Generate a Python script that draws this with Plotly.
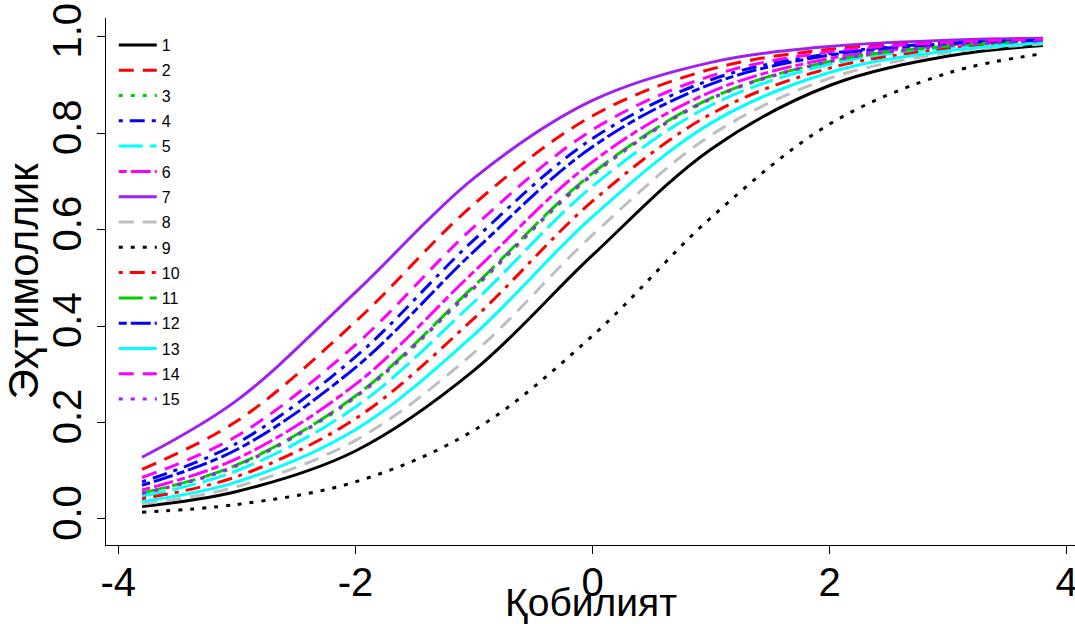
import plotly.graph_objects as go

# Ability grid (x) at which curves were read
ability = [-3.8, -3.0, -2.0, -1.0, 0.0, 1.0, 2.0, 3.0, 3.8]

item_names = ["1", "2", "3", "4", "5", "6", "7", "8", "9", "10", "11", "12", "13", "14", "15"]

p1 = [0.026, 0.057, 0.141, 0.308, 0.547, 0.767, 0.899, 0.960, 0.982]
p2 = [0.103, 0.203, 0.409, 0.653, 0.836, 0.933, 0.974, 0.990, 0.996]
p3 = [0.053, 0.110, 0.252, 0.478, 0.713, 0.871, 0.948, 0.980, 0.991]
p4 = [0.077, 0.157, 0.336, 0.579, 0.789, 0.911, 0.965, 0.987, 0.994]
p5 = [0.047, 0.100, 0.232, 0.450, 0.690, 0.858, 0.943, 0.978, 0.990]
p6 = [0.060, 0.125, 0.279, 0.513, 0.741, 0.886, 0.955, 0.983, 0.992]
p7 = [0.128, 0.246, 0.470, 0.707, 0.868, 0.947, 0.980, 0.993, 0.997]
p8 = [0.031, 0.067, 0.163, 0.345, 0.589, 0.796, 0.914, 0.967, 0.985]
p9 = [0.014, 0.030, 0.077, 0.184, 0.380, 0.625, 0.819, 0.925, 0.965]
p10 = [0.042, 0.088, 0.208, 0.416, 0.659, 0.840, 0.935, 0.975, 0.989]
p11 = [0.054, 0.112, 0.255, 0.483, 0.717, 0.873, 0.949, 0.981, 0.991]
p12 = [0.070, 0.144, 0.314, 0.555, 0.772, 0.902, 0.962, 0.986, 0.993]
p13 = [0.036, 0.077, 0.185, 0.382, 0.627, 0.821, 0.926, 0.971, 0.987]
p14 = [0.086, 0.172, 0.361, 0.606, 0.807, 0.919, 0.969, 0.988, 0.995]
p15 = [0.053, 0.111, 0.254, 0.480, 0.715, 0.872, 0.949, 0.981, 0.991]

series = [p1, p2, p3, p4, p5, p6, p7, p8, p9, p10, p11, p12, p13, p14, p15]

palette = ["#000000", "#FF0000", "#00CD00", "#0000FF", "#00FFFF", "#FF00FF", "#A020F0", "#BEBEBE"]
dashes = ["solid", "15px,9px", "4px,8px", "4px,7px,15px,7px", "24px,7px", "8px,4px,20px,4px"]

x_ticks = [-4, -2, 0, 2, 4]
x_ticktext = ["-4", "-2", "0", "2", "4"]
y_ticks = [0.0, 0.2, 0.4, 0.6, 0.8, 1.0]
y_ticktext = ["0.0", "0.2", "0.4", "0.6", "0.8", "1.0"]
x_title = "Қобилият"
y_title = "Эҳтимоллик"

fig = go.Figure()
for i, (name, vals) in enumerate(zip(item_names, series)):
    fig.add_trace(go.Scatter(
        x=ability, y=vals, name=name, mode="lines",
        legendgroup="g" + name,
        line=dict(color=palette[i % 8], dash=dashes[i % 6], width=3, shape="spline", smoothing=1.0),
    ))

axis_font = dict(family="Liberation Sans, Arial, sans-serif", size=40, color="black")
title_font = dict(family="Liberation Sans, Arial, sans-serif", size=42, color="black")

fig.update_layout(
    width=1075, height=624,
    margin=dict(l=106, r=0, t=18, b=79),
    paper_bgcolor="white", plot_bgcolor="white",
    showlegend=True,
    legend=dict(
        x=0.008, y=0.981, xanchor="left", yanchor="top",
        bgcolor="rgba(0,0,0,0)", borderwidth=0,
        font=dict(family="Liberation Sans, Arial, sans-serif", size=16, color="black"),
        tracegroupgap=1.5, itemwidth=38,
    ),
    xaxis=dict(
        range=[-4.104, 4.07], tickvals=x_ticks, ticktext=x_ticktext, ticks="outside", ticklen=8,
        tickcolor="black", showline=True, linecolor="black", linewidth=1,
        showgrid=False, zeroline=False, tickfont=axis_font, ticklabeloverflow="allow",
        ticklabelstandoff=-6, automargin=False,
    ),
    yaxis=dict(
        range=[-0.054, 1.039], tickvals=y_ticks, ticktext=y_ticktext, tickangle=-90,
        ticks="outside", ticklen=8, tickcolor="black", showline=True,
        linecolor="black", linewidth=1, showgrid=False, zeroline=False,
        tickfont=axis_font, automargin=False,
        title=dict(text=y_title, font=title_font, standoff=2),
    ),
    annotations=[dict(
        text=x_title, x=0.5, xref="paper", y=-0.064, yref="paper",
        xanchor="center", yanchor="top", showarrow=False,
        font=dict(family="Liberation Sans, Arial, sans-serif", size=39, color="black"),
    )],
)

fig.write_html("out.html", config={"displayModeBar": False},
               post_script="document.body.style.margin='0px';")
